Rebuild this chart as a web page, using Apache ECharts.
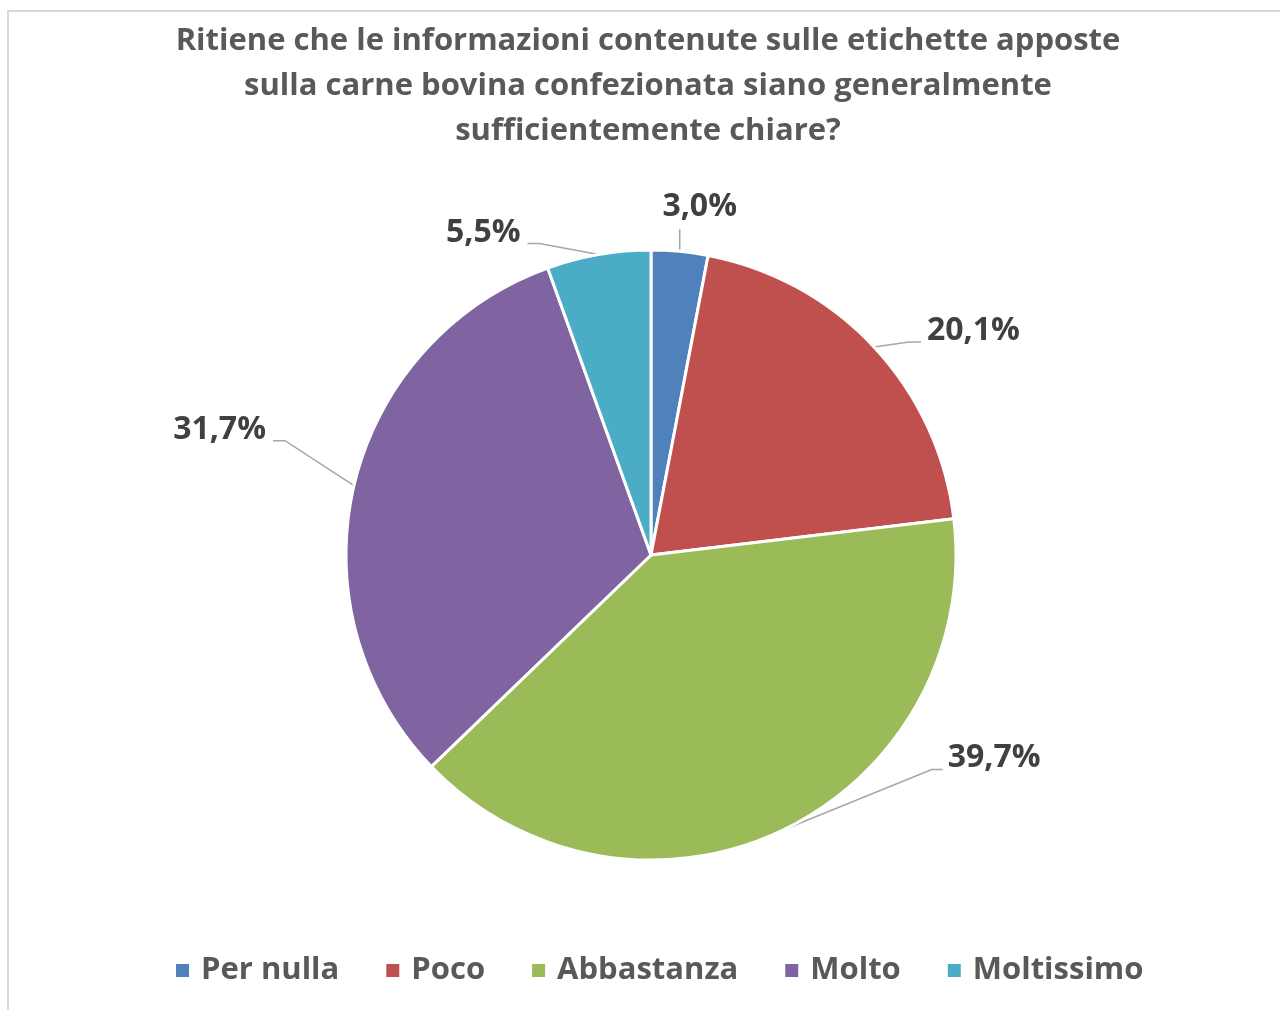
<!DOCTYPE html>
<html>
<head>
<meta charset="utf-8">
<script src="https://cdn.jsdelivr.net/npm/echarts@6/dist/echarts.min.js"></script>
<style>
  html, body { margin: 0; padding: 0; background: #fff; }
  #chart { width: 1280px; height: 1010px; }
</style>
</head>
<body>
<div id="chart"></div>
<script>
const titleText = 'Ritiene che le informazioni contenute sulle etichette apposte\nsulla carne bovina confezionata siano generalmente\nsufficientemente chiare?';
const categories = ['Per nulla', 'Poco', 'Abbastanza', 'Molto', 'Moltissimo'];
const shares = [3.0, 20.1, 39.7, 31.7, 5.5];
const palette = ['#4F81BD', '#C0504D', '#9BBB59', '#8064A2', '#4BACC6'];

// Callout styling per slice: elbow offset from the slice edge, horizontal tail,
// and how the text sits relative to the end of the leader line.
const calloutStyle = [
  { elbow: [0, -22], tail: 0, align: 'center', nudge: [20, -22] },
  { elbow: [35, -5], tail: 12, align: 'left', nudge: [6, -11] },
  { elbow: [150, -61], tail: 11, align: 'left', nudge: [5, -12] },
  { elbow: [-69, -45], tail: -12, align: 'right', nudge: [-7, -11] },
  { elbow: [-59, -11], tail: -12, align: 'right', nudge: [-7, -11] }
];

const FONT = '"Open Sans", sans-serif';

const chart = echarts.init(document.getElementById('chart'));
chart.setOption({
  animation: false,
  color: palette,
  title: {
    text: titleText,
    left: 643,
    top: 14,
    textAlign: 'center',
    textStyle: {
      fontFamily: FONT,
      fontSize: 31,
      fontWeight: 'bold',
      color: '#595959',
      lineHeight: 45
    }
  },
  legend: {
    bottom: 24,
    left: 174,
    padding: 0,
    itemWidth: 15,
    itemHeight: 15,
    itemGap: 45,
    icon: 'rect',
    textStyle: {
      fontFamily: FONT,
      fontSize: 31,
      fontWeight: 'bold',
      color: '#595959',
      padding: [0, 0, 0, 6]
    },
    data: categories
  },
  graphic: [{
    type: 'rect',
    shape: { x: 8, y: 11, width: 1300, height: 1100 },
    style: { fill: 'none', stroke: '#d9d9d9', lineWidth: 2 },
    silent: true
  }],
  series: [{
    type: 'pie',
    center: [651, 555],
    radius: [0, 305],
    startAngle: 90,
    clockwise: true,
    avoidLabelOverlap: false,
    itemStyle: { borderColor: '#fff', borderWidth: 3 },
    label: {
      show: true,
      position: 'outside',
      fontFamily: FONT,
      fontSize: 32,
      fontWeight: 'bold',
      color: '#404040',
      lineHeight: 34,
      formatter: p => p.value.toFixed(1).replace('.', ',') + '%'
    },
    labelLine: {
      show: true,
      length: 20,
      length2: 10,
      lineStyle: { color: '#a6a6a6', width: 1.5 }
    },
    labelLayout: params => {
      const cfg = calloutStyle[params.dataIndex];
      const start = params.labelLinePoints[0];
      const elbow = [start[0] + cfg.elbow[0], start[1] + cfg.elbow[1]];
      const end = [elbow[0] + cfg.tail, elbow[1]];
      return {
        x: end[0] + cfg.nudge[0],
        y: end[1] + cfg.nudge[1],
        align: cfg.align,
        verticalAlign: 'middle',
        labelLinePoints: [start, elbow, end]
      };
    },
    data: categories.map((c, i) => ({ name: c, value: shares[i] }))
  }]
});
</script>
</body>
</html>
